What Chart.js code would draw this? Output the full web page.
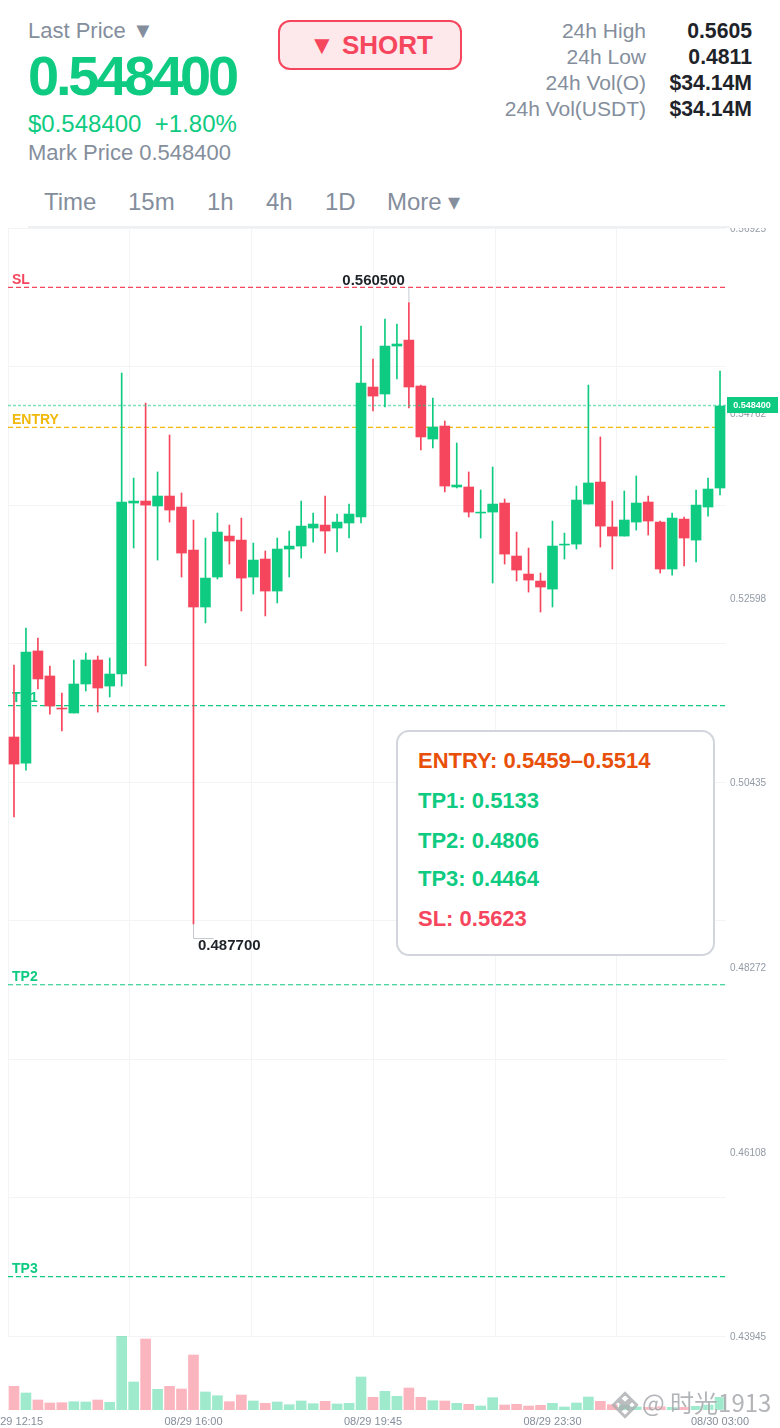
<!DOCTYPE html>
<html>
<head>
<meta charset="utf-8">
<title>Chart</title>
<script src="https://cdn.jsdelivr.net/npm/chart.js@4"></script>
<style>
  html, body { margin: 0; padding: 0; background: #fff; }
  body { position: relative; width: 780px; height: 1428px; overflow: hidden; font-family: "Liberation Sans", sans-serif; }
  .t { position: absolute; white-space: nowrap; line-height: 1; }
  .gray { color: #848e9c; }
  .green { color: #0ecb81; }
  .red { color: #f6465d; }
  canvas { position: absolute; left: 0; }
  #priceCanvas { top: 228px; }
  #volumeCanvas { top: 1336px; }
  .row { position: absolute; right: 134px; font-size: 21px; line-height: 26px; color: #848e9c; white-space: nowrap; }
  .val { position: absolute; right: 28px; font-size: 21.2px; line-height: 26px; font-weight: bold; color: #1e2329; white-space: nowrap; }
  .tab { position: absolute; top: 189px; font-size: 24px; line-height: 25px; color: #848e9c; white-space: nowrap; }
  #short { position: absolute; left: 278px; top: 20px; width: 180px; height: 46px; border: 2px solid #f6465d; border-radius: 12px; background: #fde8eb;
           color: #f6465d; font-weight: bold; font-size: 26px; line-height: 47px; text-align: center; text-indent: 2px; }
  #info { position: absolute; left: 396px; top: 730px; width: 315px; height: 222px; border: 2px solid #d2d5dc; border-radius: 13px; background: #fff; z-index: 3; }
  #info div { position: absolute; left: 20px; font-size: 22px; line-height: 24px; font-weight: bold; white-space: nowrap; }
  #mark { position: absolute; left: 611px; top: 1386px; z-index: 4; white-space: nowrap; color: rgba(130,134,140,.62); font-size: 24px; line-height: 32px;
          font-family: "Noto Sans CJK SC", sans-serif; text-shadow: 0 0 2px rgba(255,255,255,.9); }
  #mark svg { vertical-align: -7px; margin-right: 3px; }
</style>
</head>
<body>
  <div class="t gray" style="left:28px;top:20px;font-size:22px">Last Price ▼</div>
  <div class="t green" style="left:28px;top:48px;font-size:56px;font-weight:bold;letter-spacing:-3.2px">0.548400</div>
  <div class="t green" style="left:28px;top:112px;font-size:24px">$0.548400&nbsp;&nbsp;+1.80%</div>
  <div class="t gray" style="left:28px;top:142px;font-size:22px">Mark Price 0.548400</div>
  <div id="short">▼ SHORT</div>

  <div class="row" style="top:18px;right:134px">24h High</div><div class="val" style="top:18px">0.5605</div>
  <div class="row" style="top:44px">24h Low</div><div class="val" style="top:44px">0.4811</div>
  <div class="row" style="top:70px">24h Vol(O)</div><div class="val" style="top:70px">$34.14M</div>
  <div class="row" style="top:96px">24h Vol(USDT)</div><div class="val" style="top:96px">$34.14M</div>

  <div class="tab" style="left:44px">Time</div>
  <div class="tab" style="left:128px">15m</div>
  <div class="tab" style="left:207px">1h</div>
  <div class="tab" style="left:266px">4h</div>
  <div class="tab" style="left:325px">1D</div>
  <div class="tab" style="left:387px">More ▾</div>
  <div style="position:absolute;left:28px;top:226px;width:702px;height:2px;background:#eef0f2"></div>

  <canvas id="priceCanvas" width="780" height="1116"></canvas>
  <canvas id="volumeCanvas" width="780" height="92"></canvas>

  <div id="info">
    <div style="top:17px;color:#e8500a">ENTRY: 0.5459–0.5514</div>
    <div style="top:57px" class="green">TP1: 0.5133</div>
    <div style="top:97px" class="green">TP2: 0.4806</div>
    <div style="top:135px" class="green">TP3: 0.4464</div>
    <div style="top:175px" class="red">SL: 0.5623</div>
  </div>

  <div id="mark"><svg width="28" height="28" viewBox="0 0 24 24"><path fill="none" stroke="rgba(170,172,176,.8)" stroke-width="2.4" d="M12 2 L16.5 6.5 L12 11 L7.5 6.5 Z M6 8 L10 12 L6 16 L2 12 Z M18 8 L22 12 L18 16 L14 12 Z M12 13 L16.5 17.5 L12 22 L7.5 17.5 Z"/></svg>@ 时光1913</div>

<script>
const categories = [
  "08/29 12:15", "08/29 12:30", "08/29 12:45", "08/29 13:00", "08/29 13:15", "08/29 13:30", "08/29 13:45", "08/29 14:00",
  "08/29 14:15", "08/29 14:30", "08/29 14:45", "08/29 15:00", "08/29 15:15", "08/29 15:30", "08/29 15:45", "08/29 16:00",
  "08/29 16:15", "08/29 16:30", "08/29 16:45", "08/29 17:00", "08/29 17:15", "08/29 17:30", "08/29 17:45", "08/29 18:00",
  "08/29 18:15", "08/29 18:30", "08/29 18:45", "08/29 19:00", "08/29 19:15", "08/29 19:30", "08/29 19:45", "08/29 20:00",
  "08/29 20:15", "08/29 20:30", "08/29 20:45", "08/29 21:00", "08/29 21:15", "08/29 21:30", "08/29 21:45", "08/29 22:00",
  "08/29 22:15", "08/29 22:30", "08/29 22:45", "08/29 23:00", "08/29 23:15", "08/29 23:30", "08/29 23:45", "08/30 00:00",
  "08/30 00:15", "08/30 00:30", "08/30 00:45", "08/30 01:00", "08/30 01:15", "08/30 01:30", "08/30 01:45", "08/30 02:00",
  "08/30 02:15", "08/30 02:30", "08/30 02:45", "08/30 03:00"
];

const opens = [
  .50962, .50657, .51970, .51677, .51301, .51243, .51583, .51864, .51559, .51700,
  .53703, .53726, .53668, .53785, .53656, .53152, .52485, .52836, .53316, .53269,
  .52836, .53047, .52672, .53164, .53199, .53410, .53445, .53410, .53469, .53539,
  .55062, .54980, .55542, .55612, .55074, .54453, .54605, .53891, .53891, .53586,
  .53597, .53703, .53082, .52871, .52789, .52695, .53211, .53222, .53691, .53949,
  .53422, .53316, .53480, .53715, .53480, .52930, .53515, .53269, .53656, .53879
];
const highs = [
  .51806, .52239, .52122, .51794, .51478, .51864, .51946, .51911, .51888, .55226,
  .53996, .54875, .54067, .54500, .53821, .53504, .53293, .53586, .53445, .53527,
  .53234, .53141, .53293, .53375, .53726, .53586, .53785, .53574, .53691, .55776,
  .55390, .55858, .55800, .56050, .55085, .54933, .54664, .54406, .54067, .53856,
  .54125, .53750, .53363, .53176, .52883, .53492, .53351, .53902, .55085, .54477,
  .53726, .53844, .54020, .53785, .53492, .53586, .53539, .53856, .53996, .55249
];
const lows = [
  .50025, .50575, .51524, .51231, .51032, .51243, .51501, .51254, .51431, .51559,
  .53176, .51794, .53035, .53480, .52836, .48770, .52298, .52813, .52988, .52438,
  .52637, .52380, .52532, .52836, .53059, .53246, .53117, .53129, .53293, .53469,
  .54781, .54828, .55156, .54816, .54324, .54348, .53833, .53879, .53539, .53293,
  .52766, .52988, .52789, .52660, .52426, .52485, .53047, .53164, .53691, .53187,
  .52930, .53316, .53386, .53328, .52883, .52859, .52965, .53012, .53550, .53797
];
const closes = [
  .50645, .51958, .51642, .51325, .51290, .51583, .51864, .51536, .51700, .53715,
  .53726, .53679, .53785, .53621, .53117, .52485, .52824, .53363, .53258, .52824,
  .53035, .52672, .53164, .53199, .53433, .53457, .53375, .53480, .53574, .55109,
  .54956, .55542, .55566, .55062, .54477, .54594, .53902, .53914, .53597, .53597,
  .53691, .53105, .52918, .52801, .52719, .53199, .53222, .53738, .53938, .53433,
  .53316, .53504, .53703, .53492, .52930, .53527, .53293, .53679, .53867, .54840
];
const volumes = [
  23.7, 17, 10, 7, 7.3, 8.3, 8, 10, 7.7, 74,
  28, 71, 20.7, 23.7, 21, 55, 18, 14.3, 8.3, 15,
  9, 6.7, 8, 5.3, 9, 6.3, 8.7, 6, 6.7, 33,
  12.7, 18.7, 13.7, 22, 12.7, 9.3, 9, 6.7, 5.7, 4,
  12.3, 5, 5.7, 4, 4.7, 6.7, 3, 7, 13, 8.7,
  5.3, 5, 3, 2.7, 3.3, 2.7, 2.7, 3.7, 5, 12.7
];

const priceTicks = [0.56925, 0.54762, 0.52598, 0.50435, 0.48272, 0.46108, 0.43945];
const timeTicks = ["08/29 12:15", "08/29 16:00", "08/29 19:45", "08/29 23:30", "08/30 03:00"];

const levelNames = ["SL", "ENTRY", "TP1", "TP2", "TP3"];
const levelPrices = [0.5623, 0.5459, 0.5133, 0.4806, 0.4464];

const lastPrice = 0.5484;
const highLabel = "0.560500";
const lowLabel = "0.487700";

const GREEN = "#0ecb81";
const RED = "#f6465d";
const levelColors = { SL: RED, ENTRY: "#f0b90b", TP1: GREEN, TP2: GREEN, TP3: GREEN };
const isUp = (i) => closes[i] >= opens[i];
const candleColor = (ctx) => (isUp(ctx.dataIndex) ? GREEN : RED);
const volumeColor = (ctx) => (isUp(ctx.dataIndex) ? "rgba(14,203,129,.4)" : "rgba(246,70,93,.4)");

// reference levels sit under the candles
const levelsPlugin = {
  id: "levels",
  beforeDraw(chart) {
    // price labels sit a touch under their tick position
    chart.scales.y.getLabelItems().forEach((item) => { item.options.translation[1] += 1.5; });
  },
  beforeDatasetsDraw(chart) {
    const { ctx, chartArea, scales } = chart;
    ctx.save();
    levelNames.forEach((name, i) => {
      const y = scales.y.getPixelForValue(levelPrices[i]);
      ctx.strokeStyle = levelColors[name];
      ctx.lineWidth = 1.2;
      ctx.setLineDash([5, 3]);
      ctx.beginPath();
      ctx.moveTo(chartArea.left, y);
      ctx.lineTo(chartArea.right + 1, y);
      ctx.stroke();
      ctx.fillStyle = levelColors[name];
      ctx.font = "bold 14px 'Liberation Sans'";
      ctx.textBaseline = "middle";
      ctx.textAlign = "left";
      ctx.fillText(name, chartArea.left + 4, Math.floor(y) - 7);
    });
    ctx.restore();
  },
  afterDatasetsDraw(chart) {
    const { ctx, chartArea, scales } = chart;
    ctx.save();
    // last price line and tag
    const py = Math.floor(scales.y.getPixelForValue(lastPrice));
    ctx.strokeStyle = "rgba(14,203,129,.55)";
    ctx.lineWidth = 1.5;
    ctx.setLineDash([3, 2]);
    ctx.beginPath();
    ctx.moveTo(chartArea.left, py + 0.5);
    ctx.lineTo(chartArea.right + 1, py + 0.5);
    ctx.stroke();
    ctx.setLineDash([]);
    ctx.fillStyle = GREEN;
    ctx.fillRect(chartArea.right + 1, py - 8, 51, 16);
    ctx.fillStyle = "#fff";
    ctx.font = "bold 9px 'Liberation Sans'";
    ctx.textAlign = "center";
    ctx.textBaseline = "middle";
    ctx.fillText(lastPrice.toFixed(6), chartArea.right + 26, py + 1);

    // high and low markers
    const hiIdx = highs.indexOf(Math.max(...highs));
    const loIdx = lows.indexOf(Math.min(...lows));
    const hx = scales.x.getPixelForValue(hiIdx);
    const hy = scales.y.getPixelForValue(highs[hiIdx]);
    const lx = Math.round(scales.x.getPixelForValue(loIdx)) + 0.5;
    const ly = Math.round(scales.y.getPixelForValue(lows[loIdx]));
    ctx.strokeStyle = "#c6cad0";
    ctx.lineWidth = 1;
    ctx.beginPath();
    ctx.moveTo(hx, hy - 1);
    ctx.lineTo(hx, hy - 15);
    ctx.moveTo(lx, ly);
    ctx.lineTo(lx, ly + 14.5);
    ctx.lineTo(lx + 20, ly + 14.5);
    ctx.stroke();
    ctx.fillStyle = "#1e2329";
    ctx.font = "bold 15px 'Liberation Sans'";
    ctx.textAlign = "right";
    ctx.fillText(highLabel, hx - 4, hy - 22);
    ctx.textAlign = "left";
    ctx.fillText(lowLabel, lx + 4.5, ly + 22);
    ctx.restore();
  }
};

new Chart(document.getElementById("priceCanvas"), {
  type: "bar",
  data: {
    labels: categories,
    datasets: [
      {
        data: opens.map((o, i) => [Math.min(o, closes[i]), Math.max(o, closes[i])]),
        backgroundColor: candleColor,
        barThickness: 10,
        grouped: false,
      },
      {
        data: lows.map((l, i) => [l, highs[i]]),
        backgroundColor: candleColor,
        barThickness: 1,
        grouped: false,
      },
    ],
  },
  options: {
    responsive: false,
    animation: false,
    events: [],
    layout: { padding: { left: 8, right: 0, top: 0, bottom: 8 } },
    plugins: { legend: { display: false }, tooltip: { enabled: false } },
    scales: {
      x: { type: "category", display: false, offset: true },
      y: {
        type: "linear",
        position: "right",
        min: 0.43945,
        max: 0.56925,
        grid: { display: false, drawTicks: false },
        border: { display: false },
        afterBuildTicks: (scale) => { scale.ticks = priceTicks.map((value) => ({ value })); },
        afterFit: (scale) => { scale.width = 54; scale.paddingTop = 0; scale.paddingBottom = 0; },
        ticks: {
          autoSkip: false,
          padding: 4,
          color: "#929aa5",
          font: { family: "Liberation Sans", size: 10 },
          callback: (v) => v.toFixed(5),
        },
      },
      // background grid has its own divisions, not tied to ticks
      xGrid: {
        type: "linear",
        axis: "x",
        position: "bottom",
        min: 0,
        max: 5.895,
        offset: false,
        grid: { color: "#f3f4f5", drawTicks: false, offset: false },
        border: { display: false },
        ticks: { display: false, stepSize: 1, includeBounds: false },
      },
      yGrid: {
        type: "linear",
        axis: "y",
        position: "left",
        min: 0,
        max: 8,
        grid: { color: "#f3f4f5", drawTicks: false },
        border: { display: false },
        ticks: { display: false, stepSize: 1 },
      },
    },
  },
  plugins: [levelsPlugin],
});

new Chart(document.getElementById("volumeCanvas"), {
  type: "bar",
  data: {
    labels: categories,
    datasets: [{ data: volumes, backgroundColor: volumeColor, barThickness: 10 }],
  },
  options: {
    responsive: false,
    animation: false,
    events: [],
    layout: { padding: { left: 8, right: 54, top: 0, bottom: 0 } },
    plugins: { legend: { display: false }, tooltip: { enabled: false } },
    scales: {
      x: {
        type: "category",
        offset: true,
        grid: { display: false, drawTicks: false },
        border: { display: false },
        afterFit: (scale) => { scale.paddingLeft = 0; scale.paddingRight = 0; scale.height = 18; },
        ticks: {
          autoSkip: false,
          maxRotation: 0,
          padding: 5,
          color: "#848e9c",
          font: { family: "Liberation Sans", size: 11 },
          callback: (v, i) => (timeTicks.includes(categories[i]) ? categories[i] : ""),
        },
      },
      y: { display: false, min: 0, max: 74 },
    },
  },
});
</script>
</body>
</html>
